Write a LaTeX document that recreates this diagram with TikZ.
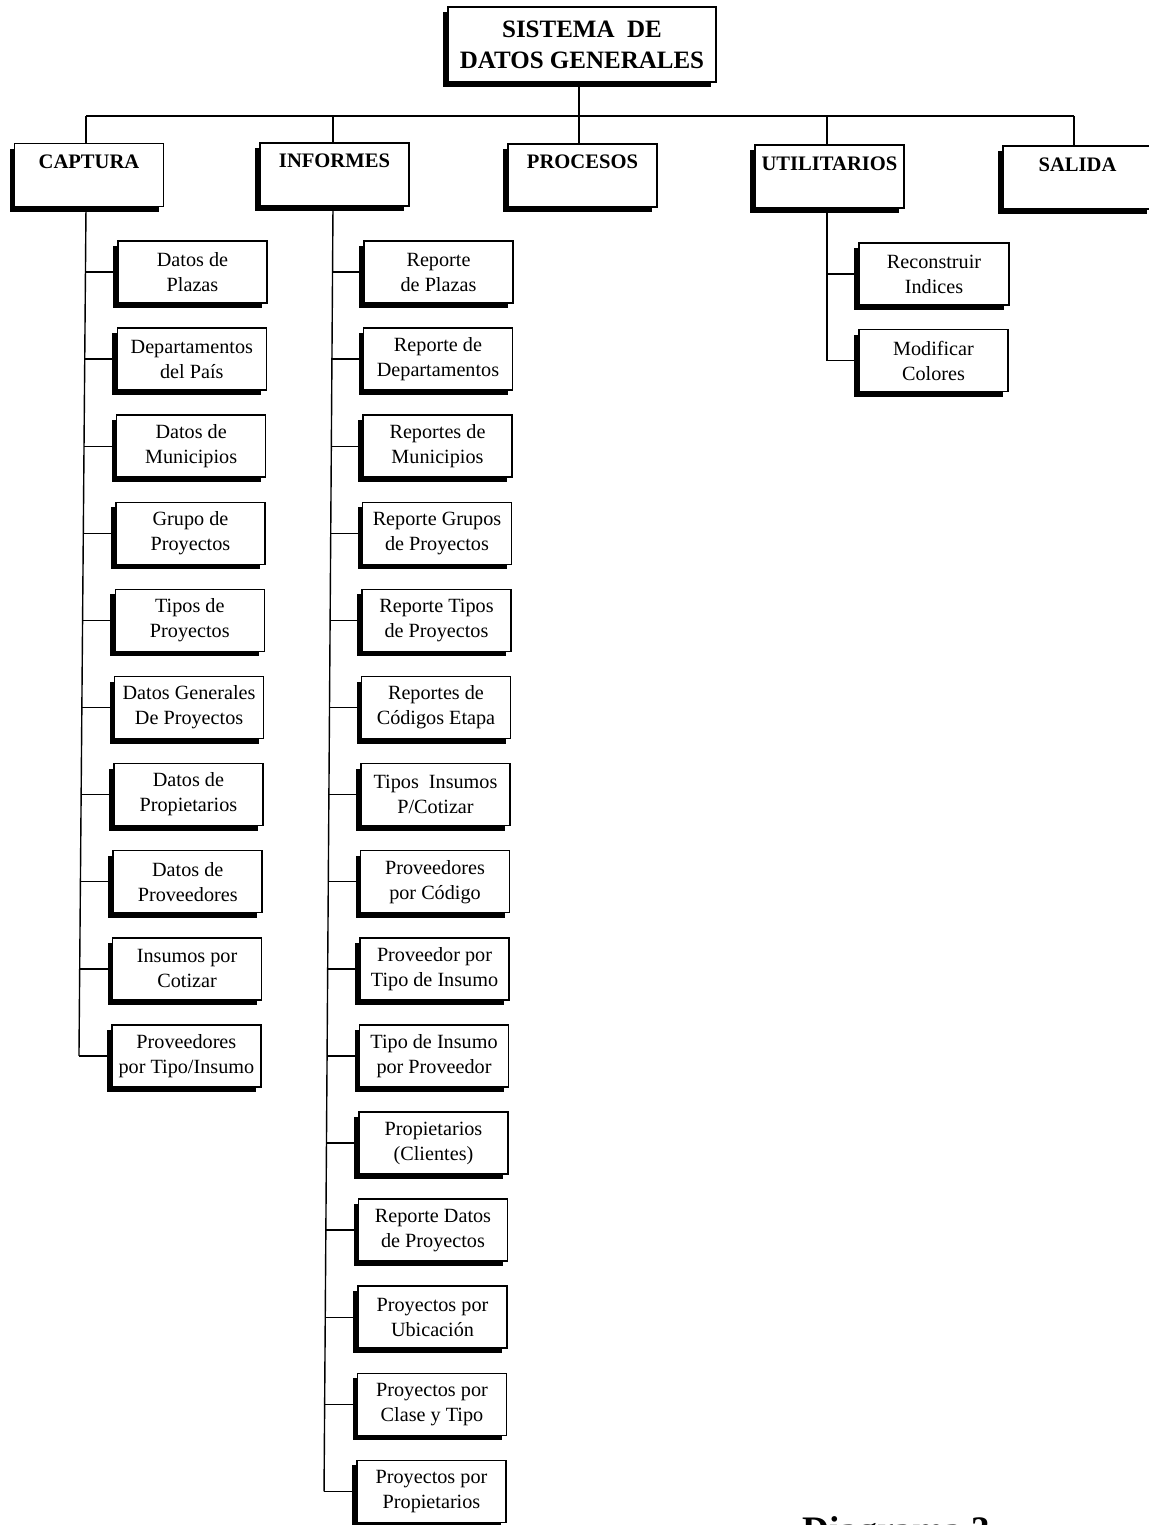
\documentclass[tikz,border=0pt]{standalone}
\usepackage{fontspec}
\setmainfont{Liberation Serif}
\usetikzlibrary{shadows}
\tikzset{
  blk/.style={draw, line width=0.75pt, fill=white, inner sep=0pt,
    drop shadow={shadow xshift=-2.5pt, shadow yshift=-2.5pt, fill=black, opacity=1}},
  leaf/.style={blk, minimum width=74.5pt, minimum height=31pt, align=center,
    font=\fontsize{10.1pt}{12.5pt}\selectfont},
  head/.style={blk, minimum width=74.5pt, text height=12.5pt, text depth=19pt,
    font=\bfseries\fontsize{10.3pt}{12pt}\selectfont},
  rootbox/.style={blk, minimum width=134pt, minimum height=37.5pt, align=center,
    font=\bfseries\fontsize{12.5pt}{15.5pt}\selectfont},
  wire/.style={line width=0.7pt},
}
\begin{document}
\begin{tikzpicture}[x=0.5pt,y=-0.5pt]
\useasboundingbox (0,0) rectangle (1148,1525);
\fill[white] (0,0) rectangle (1148,1525);

% root
\node[rootbox] (root) at (582,44.5) {SISTEMA\ \ DE\\DATOS GENERALES};

% second level
\node[head] (cap) at (89,175) {CAPTURA};
\node[head] (inf) at (334.5,174.5) {INFORMES};
\node[head] (pro) at (582.5,175.5) {PROCESOS};
\node[head] (uti) at (829.5,176.5) {UTILITARIOS};
\node[head] (sal) at (1077.5,177.5) {SALIDA};

\coordinate (d1) at (86,116);
\coordinate (d2) at (333,116);
\coordinate (d3) at (579,116);
\coordinate (d4) at (827,116);
\coordinate (d5) at (1074,116);
\draw[wire] (d1) -- (d5);
\draw[wire] (root.south -| d3) -- (d3 |- pro.north);
\foreach \h/\d in {cap/d1, inf/d2, uti/d4, sal/d5}
  \draw[wire] (\d) -- (\d |- \h.north);

% CAPTURA leaves
\foreach \t [count=\i from 0] in {
  {Datos de\\Plazas},
  {Departamentos\\del País},
  {Datos de\\Municipios},
  {Grupo de\\Proyectos},
  {Tipos de\\Proyectos},
  {Datos Generales\\De Proyectos},
  {Datos de\\Propietarios},
  {Datos de\\Proveedores},
  {Insumos por\\Cotizar},
  {Proveedores\\por Tipo/Insumo}} {
  \coordinate (cs\i) at ({86-0.78*\i},{272+87.1*\i});
  \node[leaf] (c\i) at ({192.5-0.68*\i},{272+87.1*\i}) {\t};
  \draw[wire] (cs\i) -- (c\i.west);
}
\draw[wire] (cap.south -| d1) -- (cs9);

% INFORMES leaves
\foreach \t [count=\i from 0] in {
  {Reporte\\de Plazas},
  {Reporte de\\Departamentos},
  {Reportes de\\Municipios},
  {Reporte Grupos\\de Proyectos},
  {Reporte Tipos\\de Proyectos},
  {Reportes de\\Códigos Etapa},
  {Tipos\ \ Insumos\\P/Cotizar},
  {Proveedores\\por Código},
  {Proveedor por\\Tipo de Insumo},
  {Tipo de Insumo\\por Proveedor},
  {Propietarios\\(Clientes)},
  {Reporte Datos\\de Proyectos},
  {Proyectos por\\Ubicación},
  {Proyectos por\\Clase y Tipo},
  {Proyectos por\\Propietarios}} {
  \coordinate (is\i) at ({333-0.64*\i},{272+87.1*\i});
  \node[leaf] (i\i) at ({438.5-0.5*\i},{272+87.1*\i}) {\t};
  \draw[wire] (is\i) -- (i\i.west);
}
\draw[wire] (inf.south -| d2) -- (is14);

% UTILITARIOS leaves
\coordinate (us0) at (827,274);
\coordinate (us1) at (827,360.5);
\node[leaf, minimum width=75pt] (u0) at (934,274) {Reconstruir\\Indices};
\node[leaf, minimum width=74.5pt] (u1) at (933.5,360.5) {Modificar\\Colores};
\draw[wire] (us0) -- (u0.west);
\draw[wire] (us1) -- (u1.west);
\draw[wire] (uti.south -| d4) -- (us1);

% caption (cut off by the page edge, as in the reference)
\node[font=\bfseries\fontsize{18.7pt}{22pt}\selectfont, anchor=base west, inner sep=0pt] (dg) at (802,1542) {Diagrama 3};
\end{tikzpicture}
\end{document}
